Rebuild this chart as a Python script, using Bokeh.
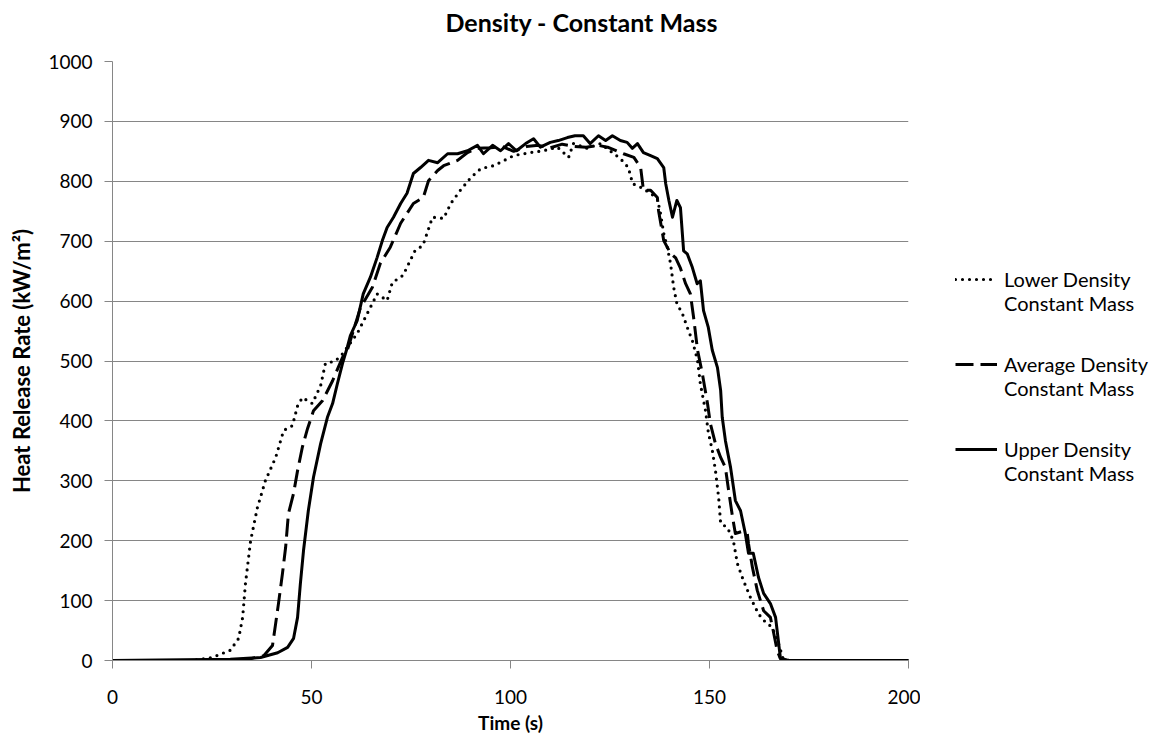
from bokeh.plotting import figure
from bokeh.models import Legend, LegendItem, Range1d, FixedTicker, Title
from bokeh.layouts import row
from bokeh.embed import file_html
from bokeh.resources import INLINE

# ---- data ----
lower_t = [0, 20, 25, 29.6, 31.7, 32.7, 33.4, 34.7, 36.4, 38.4, 41, 43, 45.2, 46.5, 47.7, 50.2,
           52.3, 53.5, 56, 57.8, 61.5, 64, 66.5, 69, 70.3, 73, 76, 78, 80.4, 83.2, 85, 87.4,
           90, 92.5, 95.7, 98.2, 100.8, 105, 108.3, 111.8, 114.6, 115.8, 119.3, 122.6, 125,
           127.6, 129.6, 130.7, 132.7, 135.2, 136.9, 137.7, 138.5, 139.4, 140.2, 141, 141.8,
           143.2, 144.7, 145.7, 147, 147.7, 149, 149.7, 150.7, 151.5, 152.3, 152.8, 154.5, 156,
           157, 158.5, 160.3, 162.3, 163.6, 165, 166.5, 167.5, 168.5, 170, 200]
lower_v = [0, 0, 5, 17, 37, 72, 128, 200, 255, 300, 339, 384, 392, 425, 439, 429,
           459, 496, 500, 512, 546, 579, 612, 601, 631, 643, 684, 693, 740, 738, 763, 785,
           806, 821, 826, 834, 843, 848, 851, 857, 840, 863, 855, 863, 851,
           838, 823, 796, 790, 780, 771, 746, 713, 690, 663, 623, 596,
           579, 551, 534, 501, 462, 417, 381, 351, 317, 272, 229, 222, 200,
           162, 134, 105, 78, 67, 60, 45, 25, 3, 0, 0]

avg_t = [0, 30, 34.7, 38, 40.2, 41, 41.7, 42.7, 43.5, 44.2, 45.5, 46.5, 47.7, 49, 50.5, 52.8,
         55.3, 57.8, 59, 62.3, 65.3, 67.3, 69.8, 72.4, 75.6, 78.1, 79.4, 81.7, 83.2, 86.7, 89.2,
         91.7, 95, 98, 100.8, 104, 107, 110, 113, 116, 119, 122, 124.4, 128.4, 131, 132.7,
         133.4, 135.2, 136.9, 137.2, 138.5, 140.2, 141.5, 142.7, 144, 145.2, 146, 147, 148.2,
         149.5, 150.2, 151.5, 152.8, 154, 154.8, 155.8, 156.5, 158, 159.5, 159.8, 160.8, 162,
         163.6, 165.3, 166, 167, 167.8, 170, 200]
avg_v = [0, 0, 3, 8, 25, 62, 95, 145, 189, 245, 279, 317, 356, 387, 417, 434,
         467, 506, 518, 589, 623, 663, 690, 730, 763, 773, 801, 818, 826, 835, 848,
         855, 856, 858, 850, 858, 860, 856, 862, 858, 857, 860, 857, 846, 840, 823,
         785, 785, 773, 751, 701, 680, 672, 655, 629, 612, 573, 518, 479,
         429, 396, 362, 339, 322, 284, 239, 212, 215, 212, 195, 155, 117,
         83, 72, 50, 17, 3, 0, 0]

upper_t = [0, 29.6, 37.2, 41.5, 44, 45.5, 46.5, 47.2, 48, 49.2, 50.5, 52.3, 54, 55.3, 56.5,
           57.8, 59, 59.8, 61.5, 63, 64.8, 66.5, 67.8, 69, 70.6, 72.4, 74, 75.6, 77.4, 79.4,
           81.7, 84.2, 86.7, 89.2, 91.7, 93.2, 95.5, 97.5, 99.5, 101.5, 103.8, 105.8, 107.5,
           110, 112, 114.3, 116.2, 118.3, 120, 122.1, 123.9, 125.6, 127.6, 129.3, 130.6, 131.9,
           133.4, 135.2, 136.9, 138.5, 139, 139.8, 140.7, 141.8, 142.7, 143.5, 144.4, 145.7,
           146.9, 147.7, 148.5, 149.7, 150.7, 152, 152.8, 153.2, 154, 155.3, 156.5, 157.8, 159,
           159.8, 161, 162.3, 163.6, 165.3, 166.6, 167.3, 167.8, 169.5, 200]
upper_v = [0, 2, 5, 13, 22, 37, 72, 128, 184, 250, 306, 362, 406, 429, 462,
           496, 523, 543, 568, 612, 640, 673, 701, 723, 740, 763, 780, 813, 823, 835,
           831, 846, 846, 851, 860, 846, 860, 851, 863, 851, 863, 871, 857,
           865, 868, 873, 876, 876, 863, 876, 868, 876, 868, 865, 855, 863,
           848, 843, 838, 823, 796, 768, 740, 768, 756, 684, 679, 656,
           629, 634, 584, 556, 518, 489, 451, 406, 367, 322, 267, 250, 212,
           179, 179, 139, 112, 95, 72, 33, 5, 0, 0]

series_t = [lower_t, avg_t, upper_t]
series_v = [lower_v, avg_v, upper_v]
series_labels = ["Lower Density\nConstant Mass",
                 "Average Density\nConstant Mass",
                 "Upper Density\nConstant Mass"]
chart_title = "Density - Constant Mass"
x_ticks = [0, 50, 100, 150, 200]
y_ticks = [0, 100, 200, 300, 400, 500, 600, 700, 800, 900, 1000]

FONT = "Lato"
GRAY = "#868686"
STYLES = [dict(line_color="black", line_width=3.2, line_dash="0 7", line_cap="round",
               line_join="round"),
          dict(line_color="black", line_width=3, line_dash="18 7", line_join="round"),
          dict(line_color="black", line_width=3, line_join="round")]

H = 746
W_MAIN = 920
W_LEG = 230

p = figure(width=W_MAIN, height=H, output_backend="svg", toolbar_location=None,
           title=None, x_range=Range1d(0, 200), y_range=Range1d(0, 1000),
           min_border_left=112, min_border_right=W_MAIN - 908, min_border_top=61,
           min_border_bottom=H - 660)
p.outline_line_color = None
p.background_fill_color = "white"

# spacer title (nearest to the frame) then the real title above it
p.add_layout(Title(text=" ", text_font_size="10px", standoff=12), "above")
p.add_layout(Title(text=chart_title, align="left", offset=333, text_font=FONT,
                   text_font_size="25px", text_font_style="bold", text_color="black",
                   standoff=0), "above")

p.xgrid.visible = False
p.ygrid.grid_line_color = GRAY
p.ygrid.grid_line_width = 1
p.xaxis.ticker = FixedTicker(ticks=x_ticks)
p.yaxis.ticker = FixedTicker(ticks=y_ticks)
for ax in (p.xaxis[0], p.yaxis[0]):
    ax.axis_line_color = GRAY
    ax.major_tick_line_color = GRAY
    ax.major_tick_out = 8
    ax.major_tick_in = 0
    ax.minor_tick_out = 0
    ax.minor_tick_in = 0
    ax.major_label_text_font = FONT
    ax.major_label_text_font_size = "19px"
    ax.major_label_text_color = "black"
    ax.axis_label_text_font = FONT
    ax.axis_label_text_font_style = "bold"
    ax.axis_label_text_color = "black"
p.xaxis.axis_label = "Time (s)"
p.yaxis.axis_label = "Heat Release Rate (kW/m²)"
p.xaxis.axis_label_text_font_size = "19px"
p.yaxis.axis_label_text_font_size = "22px"
p.yaxis.major_label_standoff = 12
p.xaxis.major_label_standoff = 21
p.yaxis.axis_label_standoff = 10
p.xaxis.axis_label_standoff = 4

for t, v, st in zip(series_t, series_v, STYLES):
    p.line(t, v, **st)

# legend panel on the right: the same series drawn with ranges that keep them
# out of view, so only their legend keys show
q = figure(width=W_LEG, height=H, output_backend="svg", toolbar_location=None,
           title=None, x_range=Range1d(-2, -1), y_range=Range1d(-2, -1),
           x_axis_location=None, y_axis_location=None, min_border=0)
q.outline_line_color = None
q.grid.visible = False
keys = [q.line(t, v, **st) for t, v, st in zip(series_t, series_v, STYLES)]
# a leading blank line puts the key level with the first text line
legend = Legend(items=[LegendItem(label=" \n" + lab, renderers=[k])
                       for lab, k in zip(series_labels, keys)],
                location=(35, 175), orientation="vertical",
                glyph_width=42, glyph_height=20, label_standoff=7, spacing=13,
                padding=0, margin=0, border_line_color=None, background_fill_alpha=0,
                label_text_font=FONT, label_text_font_size="20px",
                label_text_line_height=1.3, label_text_color="black")
q.add_layout(legend, "center")

layout = row(p, q)
open("out.html", "w").write(file_html(layout, INLINE))
